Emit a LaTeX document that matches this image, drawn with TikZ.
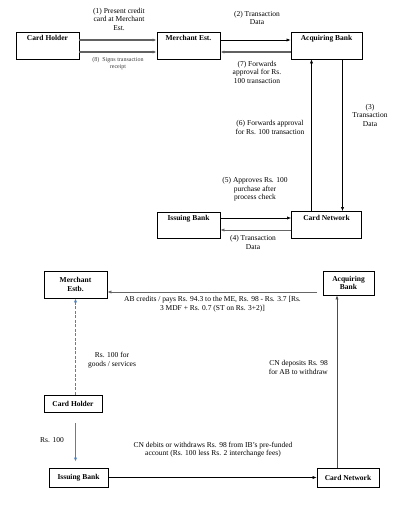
\documentclass[tikz,border=0pt]{standalone}
\usepackage{fontspec}
\setmainfont{Liberation Serif}
\usetikzlibrary{arrows.meta}
\definecolor{steel}{RGB}{79,129,189}
\begin{document}
\begin{tikzpicture}[x=1pt,y=-1pt,
  box/.style={draw=black, line width=0.8pt, inner sep=0pt, align=center,
    font=\fontsize{7.5}{8.5}\selectfont\bfseries},
  toplab/.style={label={[anchor=north, yshift=-3.5pt, inner sep=0pt,
    font=\fontsize{7.5}{8.5}\selectfont\bfseries]north:#1}},
  lbl/.style={font=\fontsize{7.5}{8.5}\selectfont, align=center, inner sep=0pt},
  small/.style={font=\fontsize{6}{7}\selectfont, align=center, inner sep=0pt, text=black!75},
  tip/.style={-{Latex[length=4pt,width=3.2pt]}},
  thinar/.style={tip, line width=0.6pt, draw=black},
  thickar/.style={tip, line width=1.6pt, draw=black!62},
  grayar/.style={tip, line width=0.6pt, draw=black!60},
  bluear/.style={tip, line width=0.8pt, draw=steel},
]
\useasboundingbox[fill=white] (0,0) rectangle (418,518);

% ---------- top diagram ----------
\node[box, minimum width=63pt, minimum height=27pt, toplab={Card Holder}] (ch) at (47.5,45.5) {};
\node[box, minimum width=63pt, minimum height=27pt, toplab={Merchant Est.}] (me) at (188.5,45.5) {};
\node[box, minimum width=71pt, minimum height=27pt, toplab={Acquiring Bank}] (ab) at (326.5,45.5) {};
\node[box, minimum width=70pt, minimum height=27pt, toplab={Card Network}] (cn) at (326.5,225) {};
\node[box, minimum width=63pt, minimum height=26pt, toplab={Issuing Bank}] (ib) at (188.5,225) {};

\draw[thickar] ([yshift=5.5pt]ch.east) -- ([yshift=5.5pt]me.west);
\draw[thickar] ([yshift=-6.5pt]ch.east) -- ([yshift=-6.5pt]me.west);
\draw[thinar] ([yshift=5.5pt]me.east) -- ([yshift=5.5pt]ab.west);
\draw[thickar] ([yshift=-6.5pt]ab.west) -- ([yshift=-6.5pt]me.east);
\draw[thinar] ([xshift=-15pt]cn.north) -- ([xshift=-15pt]ab.south);
\draw[thinar] ([xshift=16pt]ab.south) -- ([xshift=16pt]cn.north);
\draw[thinar] ([yshift=7pt]ib.east) -- ([yshift=7pt]cn.west);
\draw[grayar] ([yshift=-5pt]cn.west) -- ([yshift=-5pt]ib.east);

\node[lbl] (l1) at (119,19) {(1) Present credit\\card at Merchant\\Est.};
\node[small] (l8) at (118,63.5) {(8)\ \ Signs transaction\\receipt};
\node[lbl] (l2) at (257,18) {(2) Transaction\\Data};
\node[lbl] (l7) at (257,72) {(7) Forwards\\approval for Rs.\\100 transaction};
\node[lbl] (l3) at (370,115) {(3)\\Transaction\\Data};
\node[lbl] (l6) at (270,127.5) {(6) Forwards approval\\for Rs. 100 transaction};
\node[lbl] (l5) at (255,189.5) {(5) Approves Rs. 100\\purchase after\\process check};
\node[lbl] (l4) at (253,242.5) {(4) Transaction\\Data};

% ---------- bottom diagram ----------
\node[box, minimum width=63pt, minimum height=27pt] (me2) at (75.5,284.5) {Merchant\\Estb.};
\node[box, minimum width=51pt, minimum height=24pt] (ab2) at (348.5,283) {Acquiring\\Bank};
\node[box, minimum width=58pt, minimum height=17pt] (ch2) at (73,403.5) {Card Holder};
\node[box, minimum width=59pt, minimum height=19pt] (ib2) at (78.5,477.5) {Issuing Bank};
\node[box, minimum width=62pt, minimum height=19pt] (cn2) at (348,477.5) {Card Network};

\coordinate (abl) at (317,292);
\draw[grayar] (abl) -- (abl -| me2.east);
\draw[bluear, dashed, dash pattern=on 3pt off 1.5pt] (me2.south |- ch2.north) -- (me2.south);
\draw[bluear, shorten <=11pt, shorten >=6pt] (me2.south |- ch2.south) -- (me2.south |- ib2.north);
\draw[thinar] (ib2.east) -- (cn2.west);
\draw[thinar, draw=black!70] ([xshift=-11pt]cn2.north) -- ([xshift=-11pt]cn2.north |- ab2.south);

\node[lbl] (la) at (212.5,304) {AB credits / pays Rs. 94.3 to the ME, Rs. 98 - Rs. 3.7 [Rs.\\3 MDF + Rs. 0.7 (ST on Rs. 3+2)]};
\node[lbl] (lg) at (112,360) {Rs. 100 for\\goods / services};
\node[lbl] (lr) at (52,440) {Rs. 100};
\node[lbl] (ld) at (213,449.5) {CN debits or withdraws Rs. 98 from IB's pre-funded\\account (Rs. 100 less Rs. 2 interchange fees)};
\node[lbl, align=right, anchor=east] (lc) at (328,367.5) {CN deposits Rs. 98\\for AB to withdraw};
\end{tikzpicture}
\end{document}
